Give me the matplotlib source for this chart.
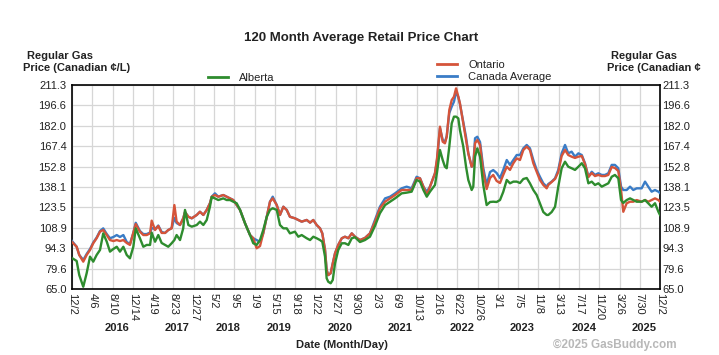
import matplotlib
matplotlib.use('Agg')
import matplotlib.pyplot as plt
from matplotlib.lines import Line2D
import matplotlib.transforms as mtrans

plt.rcParams['font.family'] = ['Liberation Sans', 'DejaVu Sans']

# ---------------- data ----------------
# days elapsed since 2015-12-02
days = [0, 29, 45, 70, 91, 112, 132, 153, 174, 194,
        216, 236, 257, 278, 298, 319, 340, 360, 381, 396,
        422, 443, 464, 485, 495, 516, 536, 557, 578, 598,
        619, 636, 650, 671, 691, 702, 723, 744, 775, 795,
        816, 837, 857, 868, 888, 909, 940, 961, 982, 1002,
        1023, 1044, 1075, 1106, 1126, 1147, 1168, 1188, 1210, 1230,
        1247, 1272, 1292, 1313, 1334, 1354, 1385, 1406, 1427, 1458,
        1479, 1499, 1520, 1541, 1555, 1572, 1582, 1592, 1607, 1620,
        1634, 1654, 1676, 1696, 1717, 1738, 1758, 1789, 1820, 1851,
        1882, 1913, 1945, 1976, 2007, 2048, 2079, 2110, 2141, 2162,
        2183, 2204, 2224, 2255, 2268, 2286, 2303, 2317, 2328, 2344,
        2359, 2373, 2386, 2400, 2410, 2431, 2448, 2462, 2483, 2493,
        2504, 2518, 2535, 2555, 2576, 2597, 2617, 2638, 2659, 2679,
        2701, 2721, 2742, 2763, 2783, 2804, 2825, 2845, 2866, 2887,
        2907, 2928, 2949, 2959, 2980, 3001, 3021, 3042, 3063, 3083,
        3104, 3125, 3146, 3167, 3187, 3208, 3229, 3249, 3270, 3291,
        3311, 3332, 3353, 3373, 3394, 3411, 3425, 3446, 3467, 3487,
        3508, 3539, 3560, 3580, 3601, 3622, 3643, 3653]

canada = [99.4, 95.3, 89.4, 85.8, 90.1, 93.7, 98.3, 101.9, 106.6, 108.5,
          104.4, 101.4, 102.3, 103.7, 102.3, 103.7, 98.7, 97.3, 105.2, 112.5,
          106.6, 104.4, 104.4, 105.5, 108.7, 108.0, 110.5, 105.9, 105.2, 107.3,
          108.7, 115.9, 112.3, 110.9, 115.7, 120.2, 116.8, 115.7, 118.1, 120.4,
          118.1, 121.7, 126.5, 131.2, 133.6, 131.2, 132.4, 131.2, 130.0, 128.8,
          125.2, 121.7, 112.1, 103.7, 101.4, 100.1, 98.9, 104.9, 116.8, 127.6,
          131.2, 125.2, 118.1, 124.0, 121.7, 116.8, 115.7, 114.5, 113.3, 114.5,
          112.6, 114.5, 110.9, 108.5, 104.9, 93.0, 78.6, 75.0, 76.3, 83.4,
          90.6, 96.6, 101.4, 102.5, 101.4, 104.9, 102.5, 100.1, 101.6, 104.9,
          114.5, 124.0, 130.0, 131.2, 133.6, 137.2, 138.4, 137.2, 145.5, 144.4,
          138.4, 134.8, 138.4, 148.0, 157.5, 180.3, 171.9, 170.4, 174.7, 191.2,
          195.8, 199.3, 206.3, 202.7, 197.7, 184.8, 174.0, 162.3, 152.7, 153.9,
          173.1, 174.2, 170.4, 151.8, 139.6, 148.9, 150.3, 148.2, 144.6, 150.3,
          157.5, 154.0, 157.5, 161.1, 161.1, 165.9, 168.3, 165.9, 157.5, 150.4,
          145.5, 140.8, 138.4, 140.3, 142.0, 144.4, 150.4, 162.3, 168.3, 162.3,
          163.5, 159.9, 162.3, 161.1, 155.2, 145.5, 149.1, 146.8, 148.0, 146.8,
          146.8, 148.0, 154.0, 154.0, 151.6, 138.4, 136.0, 136.0, 138.4, 136.0,
          137.2, 137.2, 142.0, 138.4, 134.8, 136.0, 134.8, 133.8]

ontario = [98.7, 95.3, 89.4, 84.6, 89.4, 93.0, 97.8, 101.4, 106.1, 107.3,
           103.7, 100.1, 99.4, 100.1, 99.4, 100.1, 98.0, 96.6, 105.2, 111.6,
           106.1, 103.7, 103.7, 104.9, 114.0, 107.3, 110.2, 105.2, 105.2, 107.3,
           108.5, 125.2, 113.3, 110.9, 115.7, 120.2, 116.8, 115.7, 118.1, 120.4,
           118.1, 121.7, 126.5, 131.2, 132.4, 131.2, 132.4, 131.2, 130.0, 128.8,
           125.2, 121.7, 112.1, 103.7, 101.4, 94.2, 95.8, 104.9, 116.8, 127.6,
           130.0, 125.2, 118.1, 124.0, 121.7, 116.8, 115.7, 114.5, 113.3, 114.5,
           112.6, 114.5, 110.9, 108.5, 104.9, 93.0, 78.6, 75.0, 76.3, 83.4,
           90.6, 96.6, 101.4, 102.5, 101.4, 104.9, 102.5, 100.1, 101.6, 104.9,
           113.1, 122.9, 127.6, 130.0, 132.4, 136.0, 136.0, 136.0, 144.4, 144.4,
           138.4, 132.4, 138.4, 148.0, 159.0, 181.4, 170.6, 169.5, 174.2, 193.4,
           200.5, 202.9, 208.9, 202.9, 198.2, 183.8, 171.9, 162.3, 152.7, 153.9,
           169.5, 171.9, 168.3, 148.9, 136.7, 144.6, 146.8, 142.5, 141.0, 146.8,
           152.7, 150.4, 155.2, 158.7, 157.5, 164.7, 167.1, 164.7, 155.2, 149.1,
           143.2, 139.6, 137.2, 139.6, 141.7, 143.9, 148.9, 160.4, 164.7, 161.1,
           159.9, 159.0, 159.9, 160.4, 154.6, 145.3, 148.2, 146.0, 146.8, 146.0,
           146.0, 146.8, 152.5, 151.8, 149.6, 136.0, 120.4, 126.5, 127.6, 127.6,
           128.8, 127.6, 128.8, 127.6, 128.8, 130.0, 128.8, 127.6]

alberta = [87.2, 85.1, 75.0, 66.6, 76.3, 88.2, 84.6, 89.4, 93.0, 104.9,
           98.9, 91.8, 93.7, 95.3, 91.8, 95.3, 89.4, 87.0, 95.3, 108.5,
           101.4, 95.3, 96.6, 96.6, 105.4, 98.9, 103.7, 98.0, 96.6, 95.3,
           97.8, 100.1, 103.7, 100.1, 108.5, 121.7, 110.9, 109.7, 110.9, 113.3,
           110.9, 114.5, 124.0, 131.0, 130.0, 128.8, 130.0, 128.8, 128.8, 127.6,
           126.5, 121.7, 112.1, 103.7, 97.8, 96.6, 100.1, 107.3, 116.8, 121.7,
           122.9, 121.7, 110.9, 108.5, 108.5, 104.9, 106.1, 102.5, 103.7, 101.4,
           100.1, 102.5, 101.4, 100.1, 98.9, 88.2, 72.7, 70.2, 69.1, 71.5,
           83.4, 93.0, 97.8, 97.8, 96.6, 101.4, 102.1, 98.7, 100.1, 102.5,
           110.2, 119.3, 125.2, 127.6, 130.0, 133.6, 134.1, 134.8, 143.2, 142.0,
           136.0, 131.2, 134.8, 139.6, 148.9, 164.7, 157.5, 152.7, 151.6, 167.1,
           183.8, 188.6, 188.6, 187.4, 179.0, 167.1, 152.7, 143.2, 136.0, 138.4,
           159.9, 165.9, 159.9, 139.6, 125.2, 127.4, 127.6, 127.4, 128.8, 134.6,
           143.2, 140.8, 142.0, 142.0, 141.0, 143.9, 144.6, 140.8, 136.0, 132.4,
           126.5, 120.2, 118.1, 118.1, 120.2, 124.0, 138.4, 151.6, 156.3, 152.7,
           151.6, 150.4, 152.7, 155.2, 151.6, 140.8, 142.0, 139.6, 140.8, 138.4,
           139.6, 140.8, 145.5, 146.8, 144.4, 128.8, 126.7, 128.8, 130.0, 128.8,
           127.6, 127.6, 128.8, 126.5, 124.0, 126.5, 120.4, 118.1]

tick_days = [126 * k for k in range(29)] + [3653]
tick_labels = ['12/2', '4/6', '8/10', '12/14', '4/19', '8/23', '12/27', '5/2',
               '9/5', '1/9', '5/15', '9/18', '1/22', '5/27', '9/30', '2/3',
               '6/9', '10/13', '2/16', '6/22', '10/26', '3/1', '7/5', '11/8',
               '3/13', '7/17', '11/20', '3/26', '7/30', '12/2']
year_labels = ['2016', '2017', '2018', '2019', '2020',
               '2021', '2022', '2023', '2024', '2025']
year_label_days = [277, 652, 969, 1284, 1665, 2040, 2421, 2797, 3179, 3556]
y_ticks = [65.0, 79.6, 94.3, 108.9, 123.5, 138.1, 152.8, 167.4, 182.0, 196.6, 211.3]

C_CAN = '#3a7cc6'
C_ONT = '#d5543a'
C_ALB = '#2e8c2e'
TXT = '#222222'

# ---------------- figure ----------------
W, H = 719, 355
fig = plt.figure(figsize=(W / 100, H / 100), dpi=100)
fig.patch.set_facecolor('white')
ax = fig.add_axes([72 / W, 1 - 289 / H, 588 / W, 204 / H])

ax.plot(days, canada, color=C_CAN, lw=1.7, zorder=3, solid_joinstyle='round')
ax.plot(days, ontario, color=C_ONT, lw=1.7, zorder=4, solid_joinstyle='round')
ax.plot(days, alberta, color=C_ALB, lw=1.7, zorder=5, solid_joinstyle='round')

ax.set_xlim(0, 3653)
ax.set_ylim(65.0, 211.3)
ax.set_xticks(tick_days)
ax.set_xticklabels(tick_labels, rotation=270, fontsize=8, color=TXT)
ax.tick_params(axis='x', length=0, pad=3)
ax.set_yticks(y_ticks)
ax.set_yticklabels(['%.1f' % v for v in y_ticks], fontsize=8, color=TXT)
ax.tick_params(axis='y', length=0, pad=4, labelleft=True, labelright=True)
shift = mtrans.ScaledTranslation(-3 / 100, 0, fig.dpi_scale_trans)
for t in ax.yaxis.get_major_ticks():
    t.label2.set_transform(t.label2.get_transform() + shift)
ax.grid(True, color='#d6d6d6', lw=0.9)
ax.set_axisbelow(True)
for s in ax.spines.values():
    s.set_color('black')
    s.set_linewidth(1.2)

blend = mtrans.blended_transform_factory(ax.transData, fig.transFigure)
for d, yr in zip(year_label_days, year_labels):
    ax.text(d, 1 - 328 / H, yr, transform=blend, ha='center', va='center',
            fontsize=8, fontweight='bold', color=TXT)

fig.text(361 / W, 1 - 38 / H, '120 Month Average Retail Price Chart',
         ha='center', va='center', fontsize=9.5, fontweight='bold', color=TXT)
fig.text(342 / W, 1 - 345 / H, 'Date (Month/Day)', ha='center', va='center',
         fontsize=8, fontweight='bold', color=TXT)
fig.text(553 / W, 1 - 345 / H, '\u00a92025 GasBuddy.com', ha='left', va='center',
         fontsize=8.5, fontweight='bold', color='#b8b8b8')

fig.text(27 / W, 1 - 56 / H, 'Regular Gas', ha='left', va='center',
         fontsize=8, fontweight='bold', color=TXT)
fig.text(23 / W, 1 - 68 / H, 'Price (Canadian \u00a2/L)', ha='left', va='center',
         fontsize=8, fontweight='bold', color=TXT)
fig.text(611 / W, 1 - 56 / H, 'Regular Gas', ha='left', va='center',
         fontsize=8, fontweight='bold', color=TXT)
fig.text(607 / W, 1 - 68 / H, 'Price (Canadian \u00a2', ha='left', va='center',
         fontsize=8, fontweight='bold', color=TXT)

leg1 = ax.legend(handles=[Line2D([], [], color=C_ALB, lw=2)], labels=['Alberta'],
                 loc='upper left', bbox_to_anchor=(208 / W, 1 - 73 / H),
                 bbox_transform=fig.transFigure, frameon=False, borderpad=0,
                 borderaxespad=0, handlelength=1.8, handletextpad=1.0,
                 fontsize=8, labelcolor=TXT)
ax.add_artist(leg1)
ax.legend(handles=[Line2D([], [], color=C_ONT, lw=2), Line2D([], [], color=C_CAN, lw=2)],
          labels=['Ontario', 'Canada Average'],
          loc='upper left', bbox_to_anchor=(437 / W, 1 - 60 / H),
          bbox_transform=fig.transFigure, frameon=False, borderpad=0,
          borderaxespad=0, handlelength=1.8, handletextpad=1.0,
          labelspacing=0.2, fontsize=8, labelcolor=TXT)

fig.savefig('out.png', dpi=100)
